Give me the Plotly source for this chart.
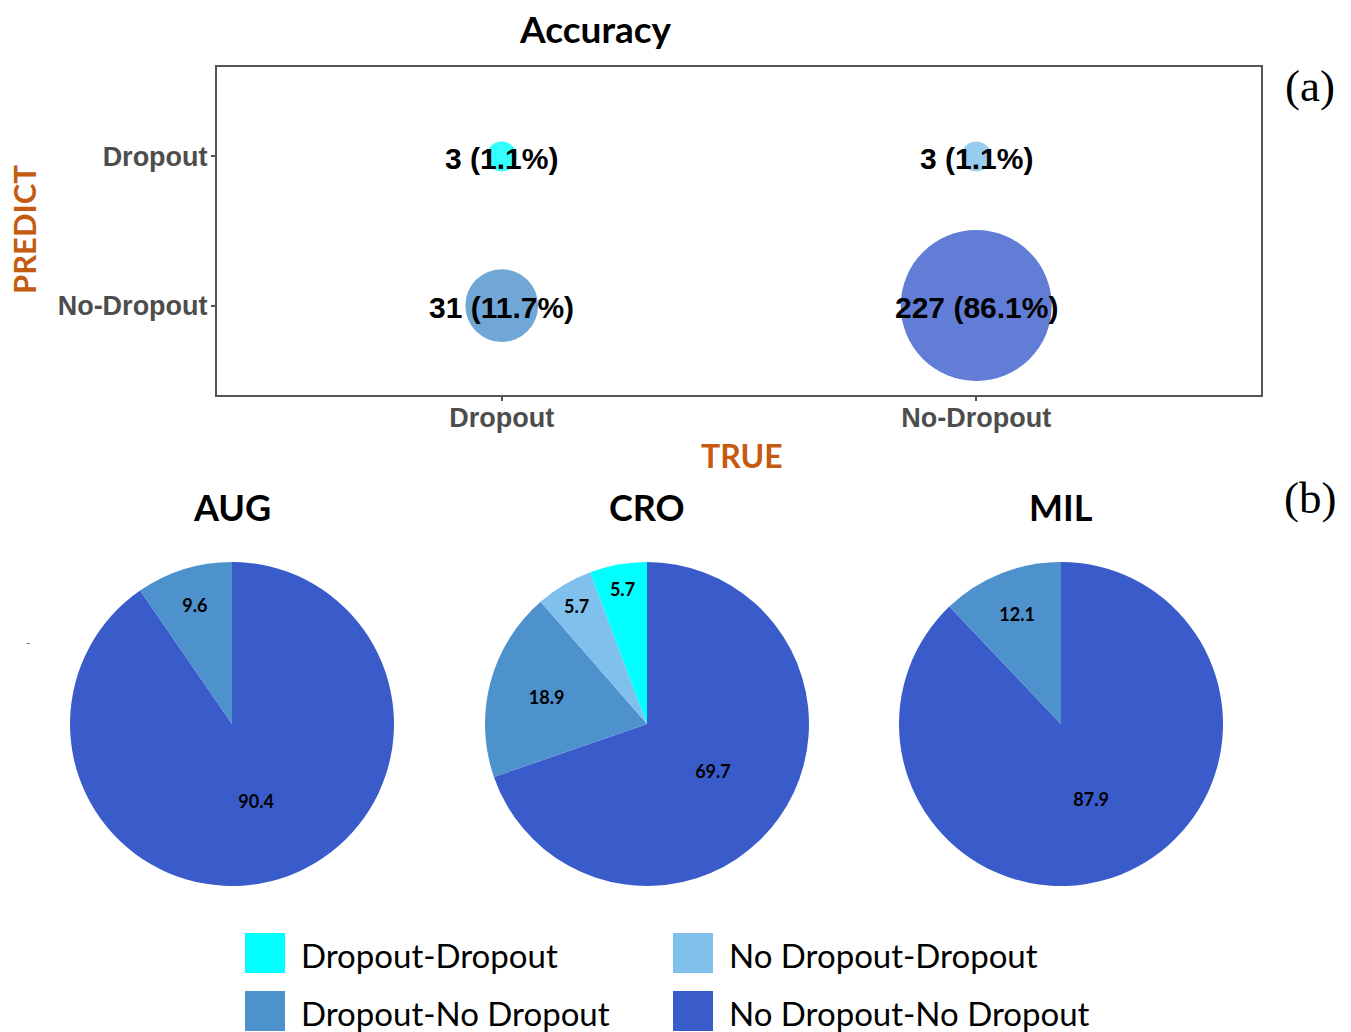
import numpy as np
import plotly.graph_objects as go

# ---------------- data ----------------
classes = ["Dropout", "No-Dropout"]                 # axis categories
cell_true = ["Dropout", "No-Dropout", "Dropout", "No-Dropout"]
cell_pred = ["Dropout", "Dropout", "No-Dropout", "No-Dropout"]
cell_count = [3, 3, 31, 227]
cell_pct = [1.1, 1.1, 11.7, 86.1]

outcome_names = ["Dropout-Dropout", "No Dropout-Dropout",
                 "Dropout-No Dropout", "No Dropout-No Dropout"]
outcome_colors = ["#00FFFF", "#80C0EC", "#4D91CD", "#3A5CCB"]

sites = ["AUG", "CRO", "MIL"]
# slice order: No Dropout-No Dropout, Dropout-No Dropout, No Dropout-Dropout, Dropout-Dropout
site_labels = [
    ["No Dropout-No Dropout", "Dropout-No Dropout"],
    ["No Dropout-No Dropout", "Dropout-No Dropout", "No Dropout-Dropout", "Dropout-Dropout"],
    ["No Dropout-No Dropout", "Dropout-No Dropout"],
]
site_values = [
    [90.4, 9.6],
    [69.7, 18.9, 5.7, 5.7],
    [87.9, 12.1],
]

# ---------------- layout helpers ----------------
W, H = 1351, 1032


def fx(x):
    return x / W


def fy(y):
    return 1 - y / H


def label(text, x, y, size, family="Lato", color="black", **kw):
    d = dict(text=text, x=fx(x), y=fy(y), xref="paper", yref="paper",
             xanchor="center", yanchor="middle", showarrow=False,
             font=dict(family=family, size=size, color=color))
    d.update(kw)
    return d


color_of = dict(zip(outcome_names, outcome_colors))

fig = go.Figure()

# ---------------- (a) confusion bubbles ----------------
vmin, vmax = min(cell_count), max(cell_count)
dmin, dmax = 30, 151
sizes = [dmin + (dmax - dmin) * np.sqrt((v - vmin) / (vmax - vmin)) for v in cell_count]
bubble_colors = [color_of[f"{t.replace('-', ' ')}-{p.replace('-', ' ')}"]
                 for t, p in zip(cell_true, cell_pred)]
bubble_text = [f"{c} ({p}%)" for c, p in zip(cell_count, cell_pct)]

fig.add_trace(go.Scatter(
    x=cell_true, y=cell_pred, mode="markers",
    marker=dict(size=sizes, color=bubble_colors, opacity=0.8, line=dict(width=0)),
    showlegend=False, hoverinfo="skip",
    xaxis="x", yaxis="y",
))

axis_common = dict(
    showline=True, mirror=True, linecolor="#555555", linewidth=2,
    ticks="outside", ticklen=4, tickwidth=1.5, tickcolor="#555555",
    showgrid=False, zeroline=False, type="category",
    tickfont=dict(family="Liberation Sans", size=27, color="#4D4D4D", weight="bold"),
)

fig.update_layout(
    xaxis=dict(axis_common, domain=[fx(217), fx(1261)], anchor="y",
               categoryorder="array", categoryarray=classes, range=[-0.6, 1.6]),
    yaxis=dict(axis_common, domain=[fy(395), fy(67)], anchor="x",
               categoryorder="array", categoryarray=classes[::-1], range=[-0.6, 1.6]),
)

annotations = []
shapes = []

# count / percentage labels centred on the bubbles
for t, p, txt in zip(cell_true, cell_pred, bubble_text):
    annotations.append(dict(text=f"<b>{txt}</b>", x=t, y=p, xref="x", yref="y",
                            xanchor="center", yanchor="middle", showarrow=False, yshift=-2,
                            font=dict(family="Liberation Sans", size=30, color="black")))

# ---------------- (b) site pies ----------------
R = 162
centers = [232, 647, 1061]
cy = 724
for name, labs, vals, cx in zip(sites, site_labels, site_values, centers):
    fig.add_trace(go.Pie(
        labels=labs, values=vals, sort=False, direction="clockwise", rotation=0,
        marker=dict(colors=[color_of[l] for l in labs], line=dict(width=0)),
        texttemplate="%{value}", textposition="inside", insidetextorientation="horizontal",
        textfont=dict(family="Lato", size=18, color="black", weight="bold"),
        domain=dict(x=[fx(cx - R), fx(cx + R)], y=[fy(cy + R), fy(cy - R)]),
        showlegend=False, hoverinfo="label+value",
    ))

# titles
annotations.append(label("<b>Accuracy</b>", 595, 28, 37))
for name, cx in zip(sites, centers):
    annotations.append(label(f"<b>{name}</b>", cx, 507, 36))

# axis titles
annotations.append(label("<b>TRUE</b>", 742, 455, 32, color="#C55A11"))
annotations.append(label("<b>PREDICT</b>", 24, 230, 31, color="#C55A11", textangle=-90))

# panel tags
for tag, ty in [("(a)", 86), ("(b)", 498)]:
    annotations.append(label(tag, 1310, ty, 45, family="Liberation Serif"))

annotations.append(label("-", 28, 642, 12, color="#666666"))

# legend grid (2 x 2)
legend_cols = [245, 673]
legend_rows = [933, 991]
sw = 40
legend_layout = [(0, 0), (0, 1), (1, 0), (1, 1)]  # (row, col) per outcome
for nm, col, (r, c) in zip(outcome_names, outcome_colors, legend_layout):
    x0, y0 = legend_cols[c], legend_rows[r]
    shapes.append(dict(type="rect", xref="paper", yref="paper",
                       x0=fx(x0), x1=fx(x0 + sw), y0=fy(y0 + sw), y1=fy(y0),
                       fillcolor=col, line=dict(width=0)))
    annotations.append(label(nm, x0 + sw + 14, y0 + sw / 2 + 2, 33, xanchor="left"))

fig.update_layout(
    width=W, height=H, margin=dict(l=0, r=0, t=0, b=0),
    paper_bgcolor="white", plot_bgcolor="white",
    annotations=annotations, shapes=shapes,
)
fig.update_xaxes(ticklabelstandoff=-6)
fig.update_yaxes(ticklabelstandoff=-2)

fig.write_html("out.html")
